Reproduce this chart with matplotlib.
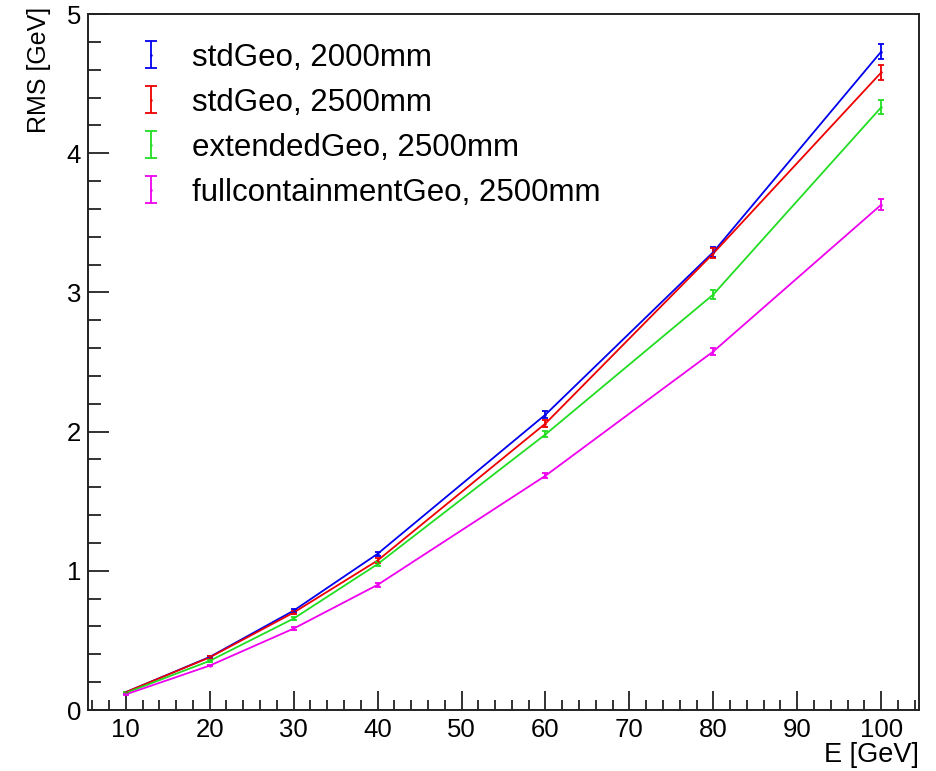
import matplotlib
matplotlib.use("Agg")
import matplotlib.pyplot as plt
from matplotlib.ticker import MultipleLocator
from matplotlib.legend_handler import HandlerErrorbar

plt.rcParams['font.family'] = ['Liberation Sans', 'DejaVu Sans']

energy = [10, 20, 30, 40, 60, 80, 100]

labels = [
    "stdGeo, 2000mm",
    "stdGeo, 2500mm",
    "extendedGeo, 2500mm",
    "fullcontainmentGeo, 2500mm",
]
colors = ["#0000ee", "#ee0000", "#22dd22", "#ee00ee"]

rms_std_2000 = [0.128, 0.381, 0.714, 1.122, 2.122, 3.29, 4.73]
rms_std_2500 = [0.128, 0.378, 0.700, 1.074, 2.058, 3.28, 4.58]
rms_ext_2500 = [0.122, 0.353, 0.657, 1.048, 1.980, 2.985, 4.33]
rms_full_2500 = [0.112, 0.319, 0.585, 0.899, 1.683, 2.576, 3.63]

err_std_2000 = [0.005, 0.008, 0.012, 0.016, 0.024, 0.036, 0.055]
err_std_2500 = [0.005, 0.008, 0.012, 0.016, 0.024, 0.036, 0.055]
err_ext_2500 = [0.005, 0.007, 0.011, 0.014, 0.022, 0.032, 0.050]
err_full_2500 = [0.004, 0.006, 0.009, 0.012, 0.018, 0.026, 0.040]

series = [rms_std_2000, rms_std_2500, rms_ext_2500, rms_full_2500]
errors = [err_std_2000, err_std_2500, err_ext_2500, err_full_2500]

fig = plt.figure(figsize=(9.36, 7.71), dpi=100)
ax = fig.add_axes([0.094, 0.0791, 0.8878, 0.9027])

handles = []
for vals, errs, col, lab in zip(series, errors, colors, labels):
    ax.plot(energy, vals, color=col, lw=1.3, zorder=2)
    eb = ax.errorbar(energy, vals, yerr=errs, fmt='.', ms=1.5, color=col,
                     ecolor=col, elinewidth=1.3, capsize=2.3, capthick=1.3,
                     label=lab, zorder=3)
    handles.append(eb)

ax.set_xlim(5.5, 104.5)
ax.set_ylim(0, 5.0)

ax.xaxis.set_major_locator(MultipleLocator(10))
ax.xaxis.set_minor_locator(MultipleLocator(2))
ax.yaxis.set_major_locator(MultipleLocator(1))
ax.yaxis.set_minor_locator(MultipleLocator(0.2))

ax.tick_params(axis='both', which='both', direction='in', top=False,
               right=False, colors='#222222', labelcolor='black', width=1.3)
ax.tick_params(axis='x', which='major', length=14, pad=6, labelsize=18.5)
ax.tick_params(axis='x', which='minor', length=7.5)
ax.tick_params(axis='y', which='major', length=15, pad=5, labelsize=18.5)
ax.tick_params(axis='y', which='minor', length=9)

for sp in ax.spines.values():
    sp.set_color('#222222')
    sp.set_linewidth(1.4)

ax.set_xlabel("E [GeV]", fontsize=19.5, loc='right', labelpad=0)
ax.set_ylabel("RMS [GeV]", fontsize=18, loc='top')
ax.yaxis.set_label_coords(-0.044, 1.01)


def _legend_caps(handle, orig):
    handle.update_from(orig)
    if hasattr(handle, 'get_marker') and handle.get_marker() == '_':
        handle.set_markersize(8)


leg = ax.legend(handles=handles, loc='upper left', fontsize=22.5,
                frameon=False, bbox_to_anchor=(0.0302, 0.999),
                handlelength=0.6, handletextpad=1.04, labelspacing=0.48,
                handler_map={type(handles[0]): HandlerErrorbar(
                    xerr_size=0.43, update_func=_legend_caps)})

fig.savefig("out.png", dpi=100)
